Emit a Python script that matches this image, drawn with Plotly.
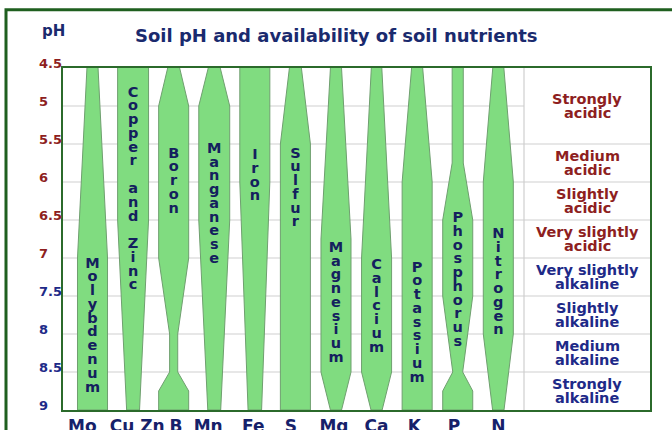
import plotly.graph_objects as go

# ---------------- data ----------------
symbols = ["Mo", "Cu Zn", "B", "Mn", "Fe", "S", "Mg", "Ca", "K", "P", "N"]
names = ["Molybdenum", "Copper and Zinc", "Boron", "Manganese", "Iron", "Sulfur",
         "Magnesium", "Calcium", "Potassium", "Phosphorus", "Nitrogen"]

# relative availability (1 = full band width) at pH breakpoints
mo_ph = [4.5, 7.0, 9.0]
mo_av = [0.37, 1.0, 1.0]
cuzn_ph = [4.5, 6.5, 9.0]
cuzn_av = [1.03, 1.03, 0.43]
b_ph = [4.5, 5.0, 7.0, 8.0, 8.5, 8.75, 9.0]
b_av = [0.4, 1.0, 1.0, 0.27, 0.27, 1.0, 1.0]
mn_ph = [4.5, 5.0, 6.5, 9.0]
mn_av = [0.4, 1.03, 1.03, 0.43]
fe_ph = [4.5, 6.0, 9.0]
fe_av = [1.0, 1.0, 0.45]
s_ph = [4.5, 5.5, 9.0]
s_av = [0.4, 1.0, 1.0]
mg_ph = [4.5, 6.75, 8.5, 9.0]
mg_av = [0.37, 1.0, 1.0, 0.37]
ca_ph = [4.5, 7.0, 8.5, 9.0]
ca_av = [0.35, 1.0, 1.0, 0.37]
k_ph = [4.5, 6.0, 9.0]
k_av = [0.37, 1.0, 1.0]
p_ph = [4.5, 5.75, 6.5, 7.5, 8.5, 8.75, 9.0]
p_av = [0.37, 0.37, 1.0, 1.0, 0.33, 1.0, 1.0]
n_ph = [4.5, 6.0, 8.0, 9.0]
n_av = [0.37, 1.0, 1.0, 0.38]

ph_ticks = [4.5, 5.0, 5.5, 6.0, 6.5, 7.0, 7.5, 8.0, 8.5, 9.0]
ph_tick_labels = ["4.5", "5", "5.5", "6", "6.5", "7", "7.5", "8", "8.5", "9"]

zone_bounds = [4.5, 5.5, 6.0, 6.5, 7.0, 7.5, 8.0, 8.5, 9.0]
zone_line1 = ["Strongly", "Medium", "Slightly", "Very slightly",
              "Very slightly", "Slightly", "Medium", "Strongly"]
zone_line2 = ["acidic", "acidic", "acidic", "acidic",
              "alkaline", "alkaline", "alkaline", "alkaline"]

# ---------------- layout / style ----------------
profiles = [(mo_ph, mo_av), (cuzn_ph, cuzn_av), (b_ph, b_av), (mn_ph, mn_av),
            (fe_ph, fe_av), (s_ph, s_av), (mg_ph, mg_av), (ca_ph, ca_av),
            (k_ph, k_av), (p_ph, p_av), (n_ph, n_av)]
name_start_ph = [7.08, 4.83, 5.63, 5.57, 5.65, 5.63, 6.87, 7.10, 7.13, 6.48, 6.69]
letter_step = 0.181
symbol_offset = [-0.25, 0.1, 0.06, -0.15, -0.04, -0.11, -0.05, 0.0, -0.07, -0.09, 0.0]

HALF = 0.37          # half of a full band, in category units
X_LEFT, X_RIGHT = -0.727, 13.738
X_SEP = 10.633
X_ZONE = (X_SEP + X_RIGHT) / 2

FONT = "DejaVu Sans"
GREEN_FILL = "#80dc80"
GREEN_EDGE = "#6f9f6f"
FRAME = "#2b6a2b"
GRID = "#cfcfcf"
NAVY = "#14205e"
RED = "#8e1f1f"
BLUE = "#1e2a88"

fig = go.Figure()

for i, (ph, av) in enumerate(profiles):
    xs = [i + a * HALF for a in av] + [i - a * HALF for a in reversed(av)]
    ys = list(ph) + list(reversed(ph))
    fig.add_trace(go.Scatter(x=xs, y=ys, mode="lines", fill="toself",
                             fillcolor=GREEN_FILL,
                             line=dict(color=GREEN_EDGE, width=1),
                             hoverinfo="skip", showlegend=False))

for i, nm in enumerate(names):
    letters = list(nm)
    ys = [name_start_ph[i] + k * letter_step for k in range(len(letters))]
    fig.add_trace(go.Scatter(x=[i] * len(letters), y=ys, mode="text",
                             text=letters, textposition="middle center",
                             textfont=dict(family=FONT, size=14.5, color=NAVY,
                                           weight="bold"),
                             hoverinfo="skip", showlegend=False))

shapes = []
for ph in ph_ticks[1:-1]:
    x1 = X_RIGHT if ph >= 5.5 else X_SEP
    shapes.append(dict(type="line", xref="x", yref="y", x0=X_LEFT, x1=x1,
                       y0=ph, y1=ph, line=dict(color=GRID, width=1),
                       layer="below"))
shapes.append(dict(type="line", xref="x", yref="y", x0=X_SEP, x1=X_SEP,
                   y0=4.5, y1=9.0, line=dict(color=GRID, width=1.2),
                   layer="below"))
# outer slide frame
shapes.append(dict(type="rect", xref="paper", yref="paper",
                   x0=(6 - 63) / 587, x1=1.2, y0=-0.3, y1=1 + (68 - 10) / 341,
                   line=dict(color="#1f5f1f", width=3)))

annotations = []
for ph, lab in zip(ph_ticks, ph_tick_labels):
    annotations.append(dict(x=(37 - 63) / 587, xref="paper", y=ph, yref="y",
                            text=lab, showarrow=False, xanchor="left",
                            yanchor="middle", yshift=5,
                            font=dict(family=FONT, size=13, weight="bold",
                                      color=RED if ph <= 7 else BLUE)))

for k in range(len(zone_line1)):
    yc = (zone_bounds[k] + zone_bounds[k + 1]) / 2
    col = RED if k < 4 else BLUE
    annotations.append(dict(x=X_ZONE, y=yc, text=zone_line1[k], showarrow=False,
                            yshift=7, font=dict(family=FONT, size=14.5,
                                                weight="bold", color=col)))
    annotations.append(dict(x=X_ZONE, y=yc, text=zone_line2[k], showarrow=False,
                            yshift=-7, font=dict(family=FONT, size=14.5,
                                                 weight="bold", color=col)))

annotations.append(dict(x=0.466, y=1 + (68 - 36) / 341, xref="paper", yref="paper",
                        text="Soil pH and availability of soil nutrients",
                        showarrow=False, xanchor="center", yanchor="middle",
                        font=dict(family=FONT, size=18, weight="bold",
                                  color="#1a2a6e")))
annotations.append(dict(x=(40 - 63) / 587, y=1 + (68 - 31) / 341,
                        xref="paper", yref="paper", text="pH", showarrow=False,
                        xanchor="left", yanchor="middle",
                        font=dict(family=FONT, size=15, weight="bold",
                                  color="#1a2a6e")))

fig.update_layout(
    width=672, height=430,
    margin=dict(l=63, r=22, t=68, b=20, autoexpand=False),
    paper_bgcolor="white", plot_bgcolor="white",
    showlegend=False, hovermode=False,
    shapes=shapes, annotations=annotations,
    xaxis=dict(range=[X_LEFT, X_RIGHT],
               tickvals=[i + o for i, o in enumerate(symbol_offset)],
               ticktext=symbols, showgrid=False, zeroline=False,
               showline=True, mirror=True, linecolor=FRAME, linewidth=2,
               ticks="", tickangle=0, automargin=False,
               tickfont=dict(family=FONT, size=17, weight="bold",
                             color="#16216a")),
    yaxis=dict(range=[9.0, 4.5], showticklabels=False, showgrid=False,
               zeroline=False, showline=True, mirror=True, linecolor=FRAME,
               linewidth=2, ticks="", automargin=False),
)

fig.write_html("out.html", config={"displayModeBar": False},
               post_script="document.body.style.margin='0px';")
